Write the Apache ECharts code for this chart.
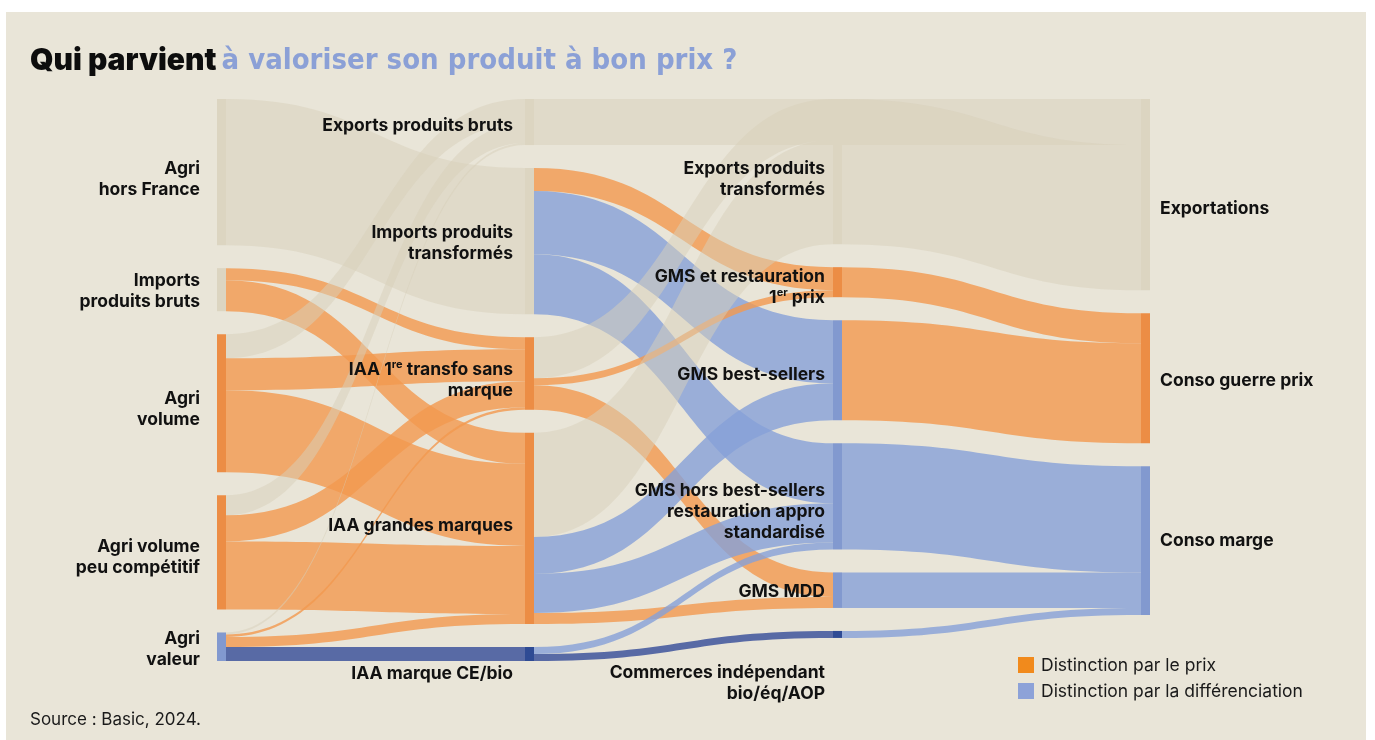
<!DOCTYPE html>
<html>
<head>
<meta charset="utf-8">
<script src="https://cdn.jsdelivr.net/npm/echarts@6/dist/echarts.min.js"></script>
<style>
  html, body { margin: 0; padding: 0; background: #ffffff; }
  #chart { width: 1375px; height: 740px; }
</style>
</head>
<body>
<div id="chart"></div>
<script>
// noeuds par colonne (ordre de haut en bas)
const col0 = ['Agri hors France', 'Imports produits bruts', 'Agri volume', 'Agri volume peu compétitif', 'Agri valeur']
const col1 = ['Exports produits bruts', 'Imports produits transformés', 'IAA 1re transfo sans marque', 'IAA grandes marques', 'IAA marque CE/bio']
const col2 = ['Exports produits transformés', 'GMS et restauration 1er prix', 'GMS best-sellers', 'GMS hors best-sellers restauration appro standardisé', 'GMS MDD', 'Commerces indépendant bio/éq/AOP']
const col3 = ['Exportations', 'Conso guerre prix', 'Conso marge']

// flux : source, cible, valeur, type
const linkSources = [
  'Agri hors France',
  'Imports produits bruts', 'Imports produits bruts',
  'Agri volume', 'Agri volume', 'Agri volume',
  'Agri volume peu compétitif', 'Agri volume peu compétitif', 'Agri volume peu compétitif',
  'Agri valeur', 'Agri valeur', 'Agri valeur', 'Agri valeur',
  'Imports produits transformés', 'Imports produits transformés', 'Imports produits transformés',
  'IAA 1re transfo sans marque', 'IAA 1re transfo sans marque', 'IAA 1re transfo sans marque',
  'IAA grandes marques', 'IAA grandes marques', 'IAA grandes marques', 'IAA grandes marques',
  'IAA marque CE/bio', 'IAA marque CE/bio',
  'Exports produits bruts', 'Exports produits transformés',
  'GMS et restauration 1er prix', 'GMS best-sellers',
  'GMS hors best-sellers restauration appro standardisé', 'GMS MDD', 'Commerces indépendant bio/éq/AOP'
]
const linkTargets = [
  'Imports produits transformés',
  'IAA 1re transfo sans marque', 'IAA grandes marques',
  'Exports produits bruts', 'IAA 1re transfo sans marque', 'IAA grandes marques',
  'Exports produits bruts', 'IAA 1re transfo sans marque', 'IAA grandes marques',
  'Exports produits bruts', 'IAA 1re transfo sans marque', 'IAA grandes marques', 'IAA marque CE/bio',
  'GMS et restauration 1er prix', 'GMS best-sellers', 'GMS hors best-sellers restauration appro standardisé',
  'Exports produits transformés', 'GMS et restauration 1er prix', 'GMS MDD',
  'Exports produits transformés', 'GMS best-sellers', 'GMS hors best-sellers restauration appro standardisé', 'GMS MDD',
  'GMS hors best-sellers restauration appro standardisé', 'Commerces indépendant bio/éq/AOP',
  'Exportations', 'Exportations',
  'Conso guerre prix', 'Conso guerre prix',
  'Conso marge', 'Conso marge', 'Conso marge'
]
const linkValues = [
  146,
  12, 31,
  24, 32, 82,
  20, 26, 68,
  2, 2.5, 10, 14,
  23, 63, 60,
  41, 7, 24.5,
  104, 37, 39, 11,
  7, 7,
  46, 145,
  30, 100,
  106, 35.5, 7
]
const linkKinds = [
  'neutre',
  'prix', 'prix',
  'neutre', 'prix', 'prix',
  'neutre', 'prix', 'prix',
  'neutre', 'prix', 'prix', 'bio',
  'prix', 'diff', 'diff',
  'neutre', 'prix', 'prix',
  'neutre', 'diff', 'diff', 'prix',
  'diff', 'bio',
  'neutre', 'neutre',
  'prix', 'prix',
  'diff', 'diff', 'diff'
]
const nodeKinds = {
  'Agri hors France': 'neutre', 'Imports produits bruts': 'neutre', 'Agri volume': 'prix',
  'Agri volume peu compétitif': 'prix', 'Agri valeur': 'diff',
  'Exports produits bruts': 'neutre', 'Imports produits transformés': 'neutre',
  'IAA 1re transfo sans marque': 'prix', 'IAA grandes marques': 'prix', 'IAA marque CE/bio': 'bio',
  'Exports produits transformés': 'neutre', 'GMS et restauration 1er prix': 'prix', 'GMS best-sellers': 'diff',
  'GMS hors best-sellers restauration appro standardisé': 'diff', 'GMS MDD': 'diff',
  'Commerces indépendant bio/éq/AOP': 'bio',
  'Exportations': 'neutre', 'Conso guerre prix': 'prix', 'Conso marge': 'diff'
}
const legendLabels = ['Distinction par le prix', 'Distinction par la différenciation']

// libellés affichés
const labelText = {
  'Agri hors France': 'Agri\nhors France',
  'Imports produits bruts': 'Imports\nproduits bruts',
  'Agri volume': 'Agri\nvolume',
  'Agri volume peu compétitif': 'Agri volume\npeu compétitif',
  'Agri valeur': 'Agri\nvaleur',
  'Exports produits bruts': 'Exports produits bruts',
  'Imports produits transformés': 'Imports produits\ntransformés',
  'IAA 1re transfo sans marque': 'IAA 1{sup|re} transfo sans\nmarque',
  'IAA grandes marques': 'IAA grandes marques',
  'IAA marque CE/bio': 'IAA marque CE/bio',
  'Exports produits transformés': 'Exports produits\ntransformés',
  'GMS et restauration 1er prix': 'GMS et restauration\n1{sup|er} prix',
  'GMS best-sellers': 'GMS best-sellers',
  'GMS hors best-sellers restauration appro standardisé': 'GMS hors best-sellers\nrestauration appro\nstandardisé',
  'GMS MDD': 'GMS MDD',
  'Commerces indépendant bio/éq/AOP': 'Commerces indépendant\nbio/éq/AOP',
  'Exportations': 'Exportations',
  'Conso guerre prix': 'Conso guerre prix',
  'Conso marge': 'Conso marge'
}

// styles
const nodeColors = { neutre: '#dcd5c1', prix: '#ec8d45', diff: '#8299cf', bio: '#2f4b94' }
const linkColors = { neutre: 'rgba(216,208,186,0.5)', prix: 'rgba(242,153,79,0.8)', diff: 'rgba(134,160,216,0.8)', bio: 'rgba(72,92,160,0.9)' }
const labelDistance = [17, 12, 8, 10]
const labelShift = {
  'Agri hors France': 7, 'Imports produits bruts': 2, 'Agri volume': 6, 'Agri volume peu compétitif': 5, 'Agri valeur': 2,
  'Exports produits bruts': 4, 'Imports produits transformés': 2, 'IAA 1re transfo sans marque': 7, 'IAA grandes marques': -3, 'IAA marque CE/bio': 20,
  'Exports produits transformés': 8, 'GMS et restauration 1er prix': 5, 'GMS best-sellers': 4,
  'GMS hors best-sellers restauration appro standardisé': 15, 'GMS MDD': 2, 'Commerces indépendant bio/éq/AOP': 49,
  'Exportations': 14, 'Conso guerre prix': 2
}

const columns = [col0, col1, col2, col3]
let nodes = []
columns.forEach(function (col, depth) {
  col.forEach(function (name) {
    nodes.push({
      name: name,
      depth: depth,
      itemStyle: { color: nodeColors[nodeKinds[name]] },
      label: {
        position: depth === 3 ? 'right' : 'left',
        align: depth === 3 ? 'left' : 'right',
        distance: labelDistance[depth],
        offset: [0, labelShift[name] || 0]
      }
    })
  })
})
let links = linkSources.map(function (s, i) {
  return {
    source: s,
    target: linkTargets[i],
    value: linkValues[i],
    lineStyle: { color: linkColors[linkKinds[i]], opacity: 1 }
  }
})

let myChart = echarts.init(document.getElementById('chart'))
let option = {
  backgroundColor: '#ffffff',
  animation: false,
  title: {
    left: 25,
    top: 41,
    text: '{a|Qui parvient} {b|à valoriser son produit à bon prix ?}',
    textStyle: {
      rich: {
        a: { fontFamily: 'Inter', fontWeight: 900, fontSize: 30, color: '#0d0d0d' },
        b: { fontFamily: 'DejaVu Sans Condensed', fontWeight: 'bold', fontSize: 29, color: '#8ba0d6' }
      }
    }
  },
  graphic: [
    { type: 'rect', z: -10, shape: { x: 6, y: 12, width: 1360, height: 728 }, style: { fill: '#e9e5d8' } },
    { type: 'rect', shape: { x: 1018, y: 657, width: 16, height: 16 }, style: { fill: '#f18a1c' } },
    { type: 'rect', shape: { x: 1018, y: 683, width: 16, height: 16 }, style: { fill: '#8da2d8' } },
    { type: 'text', left: 1041, top: 657, style: { text: legendLabels[0], font: '17.5px Inter', fill: '#1a1a1a' } },
    { type: 'text', left: 1041, top: 683, style: { text: legendLabels[1], font: '17.5px Inter', fill: '#1a1a1a' } },
    { type: 'text', left: 30, top: 711, style: { text: 'Source : Basic, 2024.', font: '17px Inter', fill: '#1a1a1a' } }
  ],
  series: [{
    type: 'sankey',
    left: 217,
    top: 99,
    width: 933,
    height: 562,
    nodeWidth: 9,
    nodeGap: 23,
    layoutIterations: 0,
    draggable: false,
    emphasis: { disabled: true },
    label: {
      color: '#111111',
      fontFamily: 'Inter',
      fontWeight: 700,
      fontSize: 17.5,
      lineHeight: 21,
      formatter: function (p) { return labelText[p.name] },
      rich: {
        sup: { fontFamily: 'Inter', fontWeight: 700, fontSize: 11, lineHeight: 12, verticalAlign: 'top', color: '#111111' }
      }
    },
    lineStyle: { curveness: 0.5 },
    data: nodes,
    links: links
  }]
}
myChart.setOption(option)
</script>
</body>
</html>
